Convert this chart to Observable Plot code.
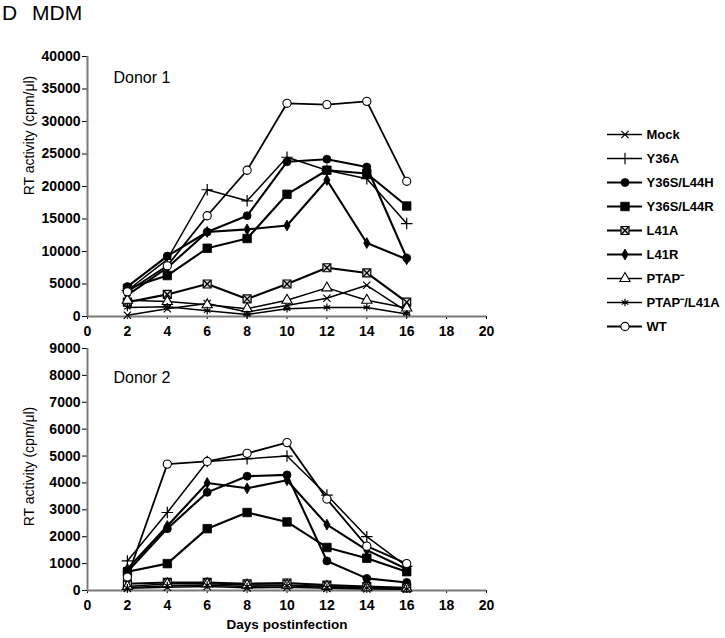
<!DOCTYPE html>
<html><head><meta charset="utf-8">
<script src="https://cdn.jsdelivr.net/npm/d3@7"></script>
<script src="https://cdn.jsdelivr.net/npm/@observablehq/plot@0.6"></script>
<style>
body{margin:0;background:#fff;}
#wrap{position:relative;width:725px;height:638px;font-family:"Liberation Sans",Arial,sans-serif;overflow:hidden;background:#fff}
#title{position:absolute;left:2px;top:1px;font-size:21px;white-space:pre;word-spacing:9px;color:#000}
.pane{position:absolute;}
</style></head><body>
<div id="wrap"><div id="title">D MDM</div></div>
<script>
// ---------- data ----------
const days = [2, 4, 6, 8, 10, 12, 14, 16];
const seriesNames = ["Mock", "Y36A", "Y36S/L44H", "Y36S/L44R", "L41A", "L41R", "PTAP⁻", "PTAP⁻/L41A", "WT"];
const xTicks = [0, 2, 4, 6, 8, 10, 12, 14, 16, 18, 20];
const yTicks1 = [0, 5000, 10000, 15000, 20000, 25000, 30000, 35000, 40000];
const yTicks2 = [0, 1000, 2000, 3000, 4000, 5000, 6000, 7000, 8000, 9000];
const panelLabels = ["Donor 1", "Donor 2"];
const yLabel = "RT activity (cpm/μl)";
const xLabel = "Days postinfection";

// Donor 1
const mock1      = [200, 1200, 2000, 700, 1700, 2800, 4800, 800];
const y36a1      = [4000, 8800, 19500, 17800, 24500, 22500, 21200, 14300];
const l44h1      = [4600, 9300, 13000, 15500, 23800, 24200, 23000, 9000];
const l44r1      = [4300, 6300, 10500, 12000, 18800, 22500, 22000, 17000];
const l41a1      = [2200, 3400, 5000, 2700, 5000, 7500, 6700, 2200];
const l41r1      = [3300, 7500, 13000, 13400, 14000, 21000, 11300, 8800];
const ptap1      = [2500, 2300, 1800, 1200, 2500, 4400, 2500, 1300];
const ptapL41a1  = [1400, 1500, 900, 300, 1200, 1400, 1400, 400];
const wt1        = [3800, 7800, 15500, 22500, 32800, 32600, 33100, 20800];

// Donor 2
const mock2      = [80, 120, 150, 100, 120, 80, 60, 50];
const y36a2      = [1100, 2900, 4800, 4900, 5000, 3550, 2000, 900];
const l44h2      = [700, 2300, 3650, 4250, 4300, 1100, 450, 300];
const l44r2      = [700, 1000, 2300, 2900, 2550, 1600, 1200, 700];
const l41a2      = [250, 300, 300, 250, 280, 200, 150, 100];
const l41r2      = [800, 2400, 4000, 3800, 4100, 2450, 1500, 800];
const ptap2      = [150, 250, 250, 200, 200, 150, 100, 80];
const ptapL41a2  = [100, 180, 200, 150, 180, 120, 100, 60];
const wt2        = [500, 4700, 4800, 5100, 5500, 3400, 1650, 1000];

const donor1Series = [mock1, y36a1, l44h1, l44r1, l41a1, l41r1, ptap1, ptapL41a1, wt1];
const donor2Series = [mock2, y36a2, l44h2, l44r2, l41a2, l41r2, ptap2, ptapL41a2, wt2];

function toTable(list) {
  const rows = [];
  list.forEach((vals, i) => vals.forEach((v, j) => rows.push({series: seriesNames[i], day: days[j], value: v})));
  return rows;
}
const table1 = toTable(donor1Series);
const table2 = toTable(donor2Series);

// ---------- styles ----------
const FONT = '"Liberation Sans", Arial, sans-serif';
const lineW = {"Mock": 1.5, "Y36A": 1.5, "Y36S/L44H": 2.1, "Y36S/L44R": 2.1, "L41A": 2.1, "L41R": 2.1, "PTAP⁻": 1.5, "PTAP⁻/L41A": 1.5, "WT": 1.8};
const markerSpecs = {
  "Mock": [{symbol: "times", r: 3.4, fill: "none", stroke: "black", strokeWidth: 1.2}],
  "Y36A": [{symbol: "plus", r: 3.8, fill: "none", stroke: "black", strokeWidth: 1.2}],
  "Y36S/L44H": [{symbol: "circle", r: 4, fill: "black", stroke: "black", strokeWidth: 0.8}],
  "Y36S/L44R": [{symbol: "square", r: 4.8, fill: "black", stroke: "black", strokeWidth: 0.8}],
  "L41A": [{symbol: "square", r: 4.5, fill: "#d8d8d8", stroke: "black", strokeWidth: 1.2},
           {symbol: "times", r: 3.2, fill: "none", stroke: "black", strokeWidth: 1.3}],
  "L41R": [{symbol: "diamond", r: 3.3, fill: "black", stroke: "black", strokeWidth: 0.8}],
  "PTAP⁻": [{symbol: "triangle", r: 3.8, fill: "white", stroke: "black", strokeWidth: 1.1}],
  "PTAP⁻/L41A": [{symbol: "asterisk", r: 3.6, fill: "none", stroke: "black", strokeWidth: 1.2}],
  "WT": [{symbol: "circle", r: 4.1, fill: "white", stroke: "black", strokeWidth: 1.1}]
};

function seriesMarks(table) {
  const marks = [];
  for (const s of seriesNames) {
    marks.push(Plot.line(table.filter(d => d.series === s), {x: "day", y: "value", stroke: "black", strokeWidth: lineW[s]}));
  }
  for (const s of seriesNames) {
    for (const m of markerSpecs[s]) {
      marks.push(Plot.dot(table.filter(d => d.series === s), {x: "day", y: "value", ...m}));
    }
  }
  return marks;
}

function panel({table, yDomain, yTicks, height, marginTop, marginBottom, donor, donorDy, labelDy, showXLabel}) {
  const marks = [
    Plot.axisY({ticks: yTicks, tickFormat: d => String(d), tickSize: 5, tickPadding: 2, label: null, fontSize: 14, fontWeight: "bold"}),
    Plot.axisX({ticks: xTicks, tickFormat: d => String(d), tickSize: 3, tickPadding: 7, label: null, fontSize: 14, fontWeight: "bold"}),
    Plot.ruleY([0], {stroke: "#7a7a7a", strokeWidth: 2}),
    Plot.ruleX([0], {stroke: "#7a7a7a", strokeWidth: 2}),
    ...seriesMarks(table),
    Plot.text([donor], {frameAnchor: "top-left", text: d => d, dx: 26, dy: donorDy, textAnchor: "start", fontSize: 16, fontWeight: "normal"}),
    Plot.text([yLabel], {frameAnchor: "left", text: d => d, dx: -58, dy: labelDy, rotate: -90, textAnchor: "middle", fontSize: 14, fontWeight: "normal"})
  ];
  if (showXLabel) marks.push(Plot.text([xLabel], {frameAnchor: "bottom", text: d => d, dy: 38, fontSize: 13.5, fontWeight: "bold"}));
  return Plot.plot({
    width: 500, height,
    marginLeft: 87, marginRight: 14, marginTop, marginBottom,
    x: {domain: [0, 20]},
    y: {domain: yDomain},
    style: {fontFamily: FONT, color: "black", background: "transparent", overflow: "visible"},
    marks
  });
}

const wrap = document.getElementById("wrap");
function place(el, left, top) {
  const d = document.createElement("div");
  d.className = "pane"; d.style.left = left + "px"; d.style.top = top + "px";
  d.appendChild(el); wrap.appendChild(d);
}

place(panel({table: table1, yDomain: [0, 40000], yTicks: yTicks1, height: 310, marginTop: 16, marginBottom: 34,
  donor: panelLabels[0], donorDy: 15, labelDy: -51, showXLabel: false}), 0, 40);
place(panel({table: table2, yDomain: [0, 9000], yTicks: yTicks2, height: 308, marginTop: 18, marginBottom: 48,
  donor: panelLabels[1], donorDy: 23, labelDy: -3, showXLabel: true}), 0, 330);

// ---------- legend ----------
const legendRows = seriesNames.map(s => ({series: s, x1: 0, x2: 1, xm: 0.5, xt: 1}));
const legendMarks = [
  Plot.ruleY(legendRows, {y: "series", x1: "x1", x2: "x2", stroke: "black", strokeWidth: d => lineW[d.series]})
];
for (const s of seriesNames) {
  for (const m of markerSpecs[s]) {
    legendMarks.push(Plot.dot(legendRows.filter(d => d.series === s), {x: "xm", y: "series", ...m}));
  }
}
legendMarks.push(Plot.text(legendRows, {x: "xt", y: "series", text: "series", dx: 4, textAnchor: "start", fontSize: 13, fontWeight: "bold"}));
const legend = Plot.plot({
  width: 125, height: 230, marginLeft: 7, marginRight: 83, marginTop: 14, marginBottom: 24,
  x: {domain: [0, 1], axis: null},
  y: {type: "point", domain: seriesNames, axis: null, padding: 0},
  strokeWidth: {type: "identity"},
  style: {fontFamily: FONT, color: "black", background: "transparent", overflow: "visible"},
  marks: legendMarks
});
place(legend, 600, 120);
</script>
</body></html>
